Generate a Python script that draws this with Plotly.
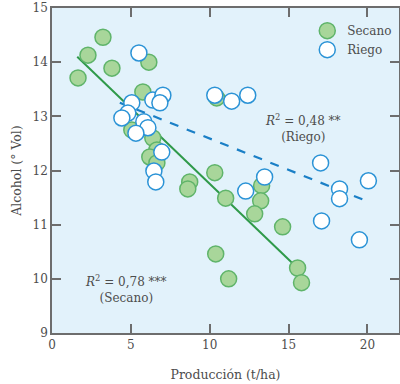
import plotly.graph_objects as go

# Secano (rainfed) points
secano_x = [1.65, 2.28, 3.23, 3.80, 6.14, 5.76, 5.06, 6.39, 6.65, 6.20, 6.65, 10.44,
            8.73, 8.61, 10.32, 11.01, 13.29, 13.23, 12.85, 14.62, 10.38, 11.20, 15.57, 15.82]
secano_y = [13.71, 14.13, 14.46, 13.89, 14.00, 13.45, 12.75, 12.60, 12.38, 12.25, 12.14, 13.34,
            11.79, 11.66, 11.96, 11.49, 11.72, 11.44, 11.20, 10.96, 10.46, 10.00, 10.20, 9.93]

# Riego (irrigated) points
riego_x = [5.51, 5.06, 4.81, 4.43, 6.39, 7.03, 6.84, 5.82, 6.08, 5.32, 6.96, 6.46, 6.58,
           10.32, 11.39, 12.41, 17.03, 13.48, 12.28, 18.23, 18.23, 20.06, 17.09, 19.49]
riego_y = [14.17, 13.25, 13.06, 12.97, 13.30, 13.39, 13.25, 12.90, 12.79, 12.69, 12.34, 11.99, 11.79,
           13.39, 13.28, 13.39, 12.14, 11.88, 11.62, 11.66, 11.48, 11.81, 11.07, 10.72]

# Regression line endpoints
secano_fit_x = [1.6, 15.2]
secano_fit_y = [14.10, 10.30]
riego_fit_x = [4.3, 20.1]
riego_fit_y = [13.25, 11.42]

x_ticks = [0, 5, 10, 15, 20]
y_ticks = [9, 10, 11, 12, 13, 14, 15]

FONT = "DejaVu Serif"
TXT = "#4d4d4d"

fig = go.Figure()
fig.add_trace(go.Scatter(x=secano_fit_x, y=secano_fit_y, mode="lines",
                         line=dict(color="#2f9a4a", width=2), showlegend=False, hoverinfo="skip"))
fig.add_trace(go.Scatter(x=riego_fit_x, y=riego_fit_y, mode="lines",
                         line=dict(color="#1a7fc6", width=2.2, dash="dash"), showlegend=False, hoverinfo="skip"))
fig.add_trace(go.Scatter(x=secano_x, y=secano_y, mode="markers", name="Secano",
                         marker=dict(size=16, color="#a8d69a", line=dict(color="#5fb46a", width=1.5))))
fig.add_trace(go.Scatter(x=riego_x, y=riego_y, mode="markers", name="Riego",
                         marker=dict(size=16, color="#ffffff", line=dict(color="#2b93d6", width=1.5))))

fig.add_annotation(x=15.9, y=12.79, xref="x", yref="y", showarrow=False,
                   text="<i>R</i><sup>2</sup> = 0,48 **<br>(Riego)",
                   font=dict(family=FONT, size=12, color=TXT), align="center")
fig.add_annotation(x=4.68, y=9.81, xref="x", yref="y", showarrow=False,
                   text="<i>R</i><sup>2</sup> = 0,78 ***<br>(Secano)",
                   font=dict(family=FONT, size=12, color=TXT), align="center")

axis_common = dict(showgrid=False, zeroline=False, showline=True, linecolor="#6d6d6d", linewidth=1.5,
                   mirror="ticks", ticks="inside", ticklen=9, tickcolor="#6d6d6d", tickwidth=1.5,
                   automargin=False,
                   tickfont=dict(family=FONT, size=12, color=TXT))

fig.update_layout(
    width=400, height=384,
    margin=dict(l=52, r=1, t=8, b=51),
    paper_bgcolor="white", plot_bgcolor="#e2f2fb",
    font=dict(family=FONT, color=TXT),
    xaxis=dict(range=[0, 22], tickvals=x_ticks,
               title=dict(text="Producción (t/ha)", font=dict(family=FONT, size=12.5, color=TXT), standoff=19),
               **axis_common),
    yaxis=dict(range=[9, 15], tickvals=y_ticks,
               title=dict(text="Alcohol (° Vol)", font=dict(family=FONT, size=12.5, color=TXT), standoff=8),
               **axis_common),
    legend=dict(x=0.995, y=0.975, xanchor="right", yanchor="top", bgcolor="rgba(0,0,0,0)",
                font=dict(family=FONT, size=12, color=TXT), itemsizing="trace", tracegroupgap=0),
)

fig.write_html("out.html", config={"displayModeBar": False},
               post_script="document.body.style.margin='0';document.body.style.overflow='hidden';")
